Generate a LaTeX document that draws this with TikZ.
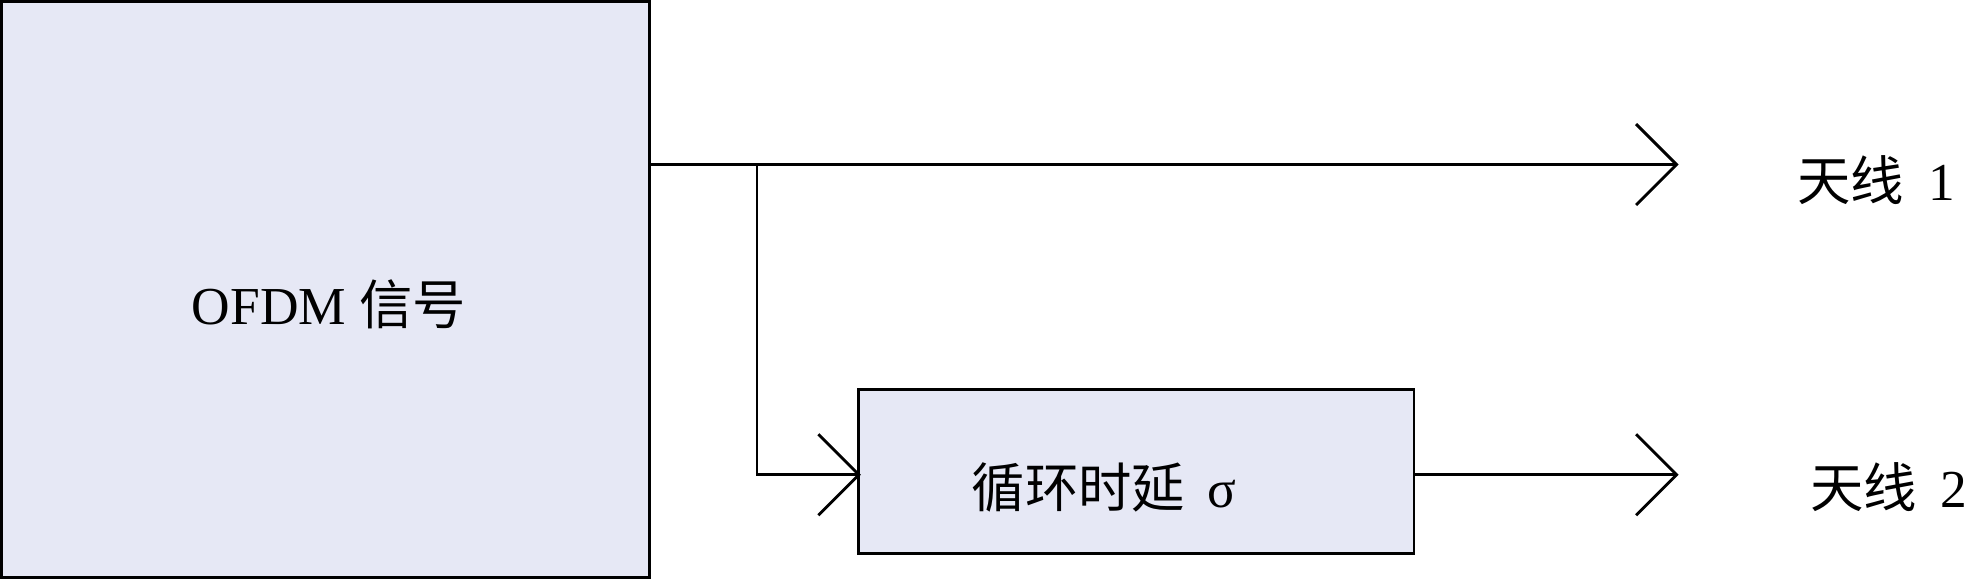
\documentclass[tikz,border=0pt]{standalone}
\usepackage{fontspec}
\setmainfont{Liberation Serif}
\newfontfamily\cjk{Noto Sans CJK SC}
\usetikzlibrary{arrows.meta}
\definecolor{boxfill}{HTML}{E6E8F5}
\begin{document}
\begin{tikzpicture}[x=0.02cm,y=-0.02cm,
  ln/.style={line width=1.3pt},
  arr/.style={ln,-{Straight Barb[length=0.64cm,width=1.28cm,line width=1.3pt]}},
  blk/.style={draw,ln,fill=boxfill,inner sep=0pt},
  txt/.style={font=\fontsize{24}{28}\selectfont}]
\useasboundingbox (0,0) rectangle (1568,457);
\node[blk,minimum width=10.24cm,minimum height=9.1cm] (ofdm) at (257,228.5) {};
\node[txt] (sig) at (260,240) {OFDM {\cjk 信号}};
\node[blk,minimum width=8.78cm,minimum height=2.58cm] (cd) at (897.5,372.5) {};
\node[txt] (cdt) at (872,385) {{\cjk 循环时延}\, σ};
\coordinate (o1) at (513,130);
\coordinate (br) at (598,130);
\coordinate (e1) at (1326,130);
\draw[arr] (o1) -- (e1);
\coordinate (in2) at (680,375);
\draw[arr] (br) |- (in2);
\coordinate (o2) at (1117,375);
\coordinate (e2) at (1326,375);
\draw[arr] (o2) -- (e2);
\node[txt] (a1) at (1482,142) {{\cjk 天线}\;\,1};
\node[txt] (a2) at (1492,385) {{\cjk 天线}\;\,2};
\end{tikzpicture}
\end{document}
